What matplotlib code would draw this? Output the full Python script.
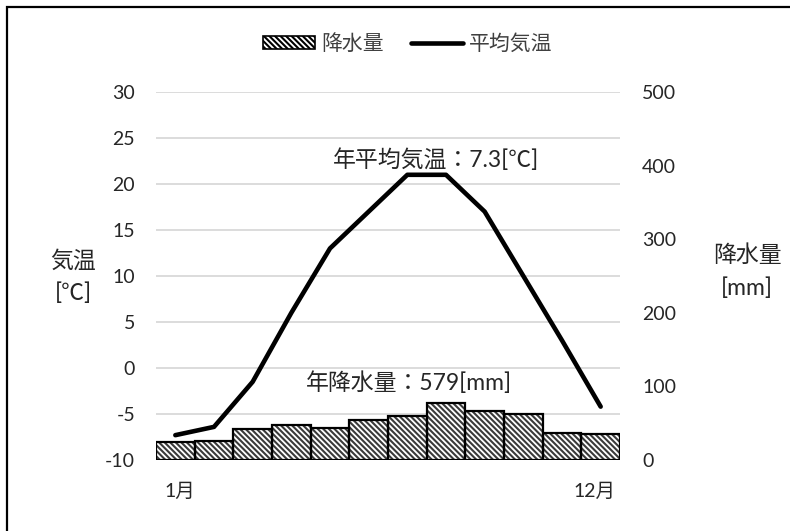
import matplotlib
matplotlib.use('Agg')
import matplotlib.pyplot as plt
import matplotlib.transforms as mtransforms
from matplotlib.patches import Patch, Rectangle
from matplotlib.lines import Line2D

plt.rcParams['font.family'] = ['Lato', 'Noto Sans CJK JP', 'DejaVu Sans']
plt.rcParams['axes.unicode_minus'] = False
plt.rcParams['hatch.linewidth'] = 1.5

# data
months = list(range(1, 13))
month_labels = ['1月'] + [''] * 10 + ['12月']
temperature = [-7.3, -6.4, -1.5, 6.0, 13.0, 17.0, 21.0, 21.0, 17.0, 10.0, 3.0, -4.2]
precipitation = [25, 26, 42, 48, 44, 55, 60, 77, 67, 63, 37, 35]
temp_ticks = list(range(-10, 31, 5))
precip_ticks = list(range(0, 501, 100))

hatch = '\\\\\\\\\\\\'

fig = plt.figure(figsize=(7.9, 5.31), dpi=100)
ax_t = fig.add_axes([156 / 790, 71 / 531, 464 / 790, 368 / 531])
ax_p = ax_t.twinx()
ax_l = ax_t.twinx()

# temperature axis (left) with gridlines
ax_t.set_ylim(-10, 30)
ax_t.set_yticks(temp_ticks)
ax_t.grid(axis='y', color='#d9d9d9', linewidth=1.3)
ax_t.set_axisbelow(True)
ax_t.set_xlim(0.5, 12.5)
ax_t.set_xticks(months)
ax_t.set_xticklabels(month_labels)
ax_t.tick_params(axis='y', length=0, pad=15, labelsize=14, colors='#262626')
ax_t.tick_params(axis='x', length=0, pad=16, labelsize=14, colors='#262626')

# Excel nudges the end labels slightly inward
xlabels = ax_t.get_xticklabels()
for lab, dx in ((xlabels[0], 5), (xlabels[-1], -6)):
    lab.set_transform(lab.get_transform() + mtransforms.ScaledTranslation(dx / 100, 0, fig.dpi_scale_trans))

# precipitation bars (right)
ax_p.bar(months, precipitation, width=1.0, color='white', edgecolor='#3a3a3a',
         hatch=hatch, linewidth=0)
ax_p.bar(months, precipitation, width=1.0, facecolor='none', edgecolor='black',
         linewidth=1.6)
ax_p.set_ylim(0, 500)
ax_p.set_yticks(precip_ticks)
ax_p.tick_params(axis='y', length=0, pad=16, labelsize=14, colors='#262626')

# temperature line on top
ax_l.plot(months, temperature, color='black', linewidth=3.3, solid_capstyle='round')
ax_l.set_ylim(-10, 30)
ax_l.set_xlim(0.5, 12.5)
ax_l.axis('off')

for a in (ax_t, ax_p):
    for s in a.spines.values():
        s.set_visible(False)

handles = [
    Patch(facecolor='white', edgecolor='black', hatch=hatch, linewidth=1.2),
    Line2D([], [], color='black', linewidth=3.3, solid_capstyle='round'),
]
fig.legend(handles, ['降水量', '平均気温'], loc='center', bbox_to_anchor=(0.516, 0.917),
           ncol=2, frameon=False, fontsize=15, handlelength=2.5, handleheight=0.6,
           columnspacing=1.3, handletextpad=0.3, labelcolor='#404040')

fig.text(436 / 790, 1 - 160 / 531, '年平均気温：7.3[℃]', ha='center', va='center',
         fontsize=16.5, color='#262626')
fig.text(409 / 790, 1 - 383 / 531, '年降水量：579[mm]', ha='center', va='center',
         fontsize=16.5, color='#262626')
fig.text(73 / 790, 1 - 277 / 531, '気温\n[℃]', ha='center', va='center',
         fontsize=16.5, linespacing=1.65, color='#262626')
fig.text(747 / 790, 1 - 272 / 531, '降水量\n[mm]', ha='center', va='center',
         fontsize=16.5, linespacing=1.65, color='#262626')

# outer frame
fig.patches.append(Rectangle((7 / 790, -0.1), 1.2, 1.1 - 7 / 531, transform=fig.transFigure,
                             fill=False, edgecolor='black', linewidth=1.6))

fig.savefig('out.png', dpi=100)
